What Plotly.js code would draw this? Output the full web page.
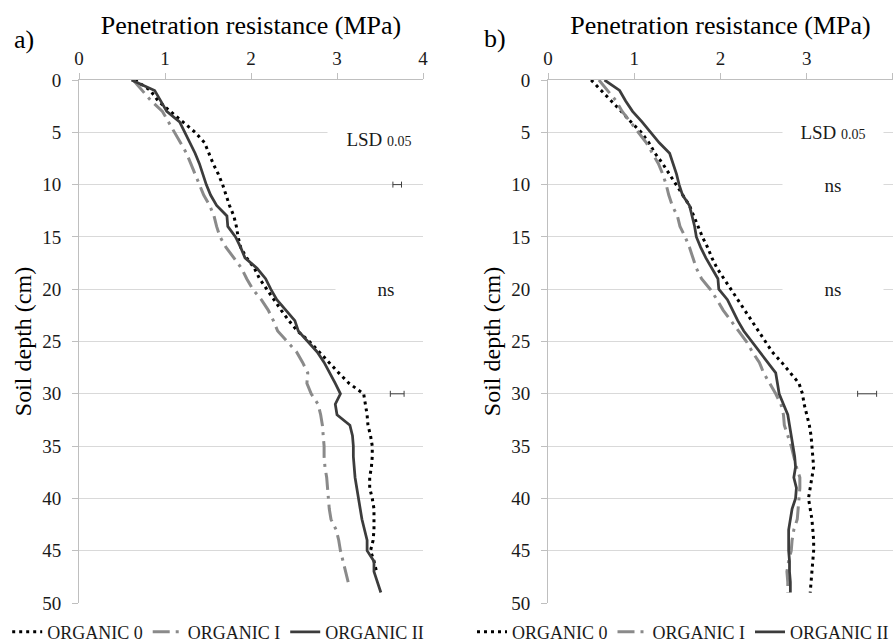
<!DOCTYPE html>
<html>
<head>
<meta charset="utf-8">
<script src="https://cdn.plot.ly/plotly-3.0.1.min.js"></script>
<style>html,body{margin:0;padding:0;background:#fff;}#chart{width:896px;height:643px;}</style>
</head>
<body>
<div id="chart"></div>
<script>
// Depth (cm)
const depth = [0,1,2,3,4,5,6,7,8,9,10,11,12,13,14,15,16,17,18,19,20,21,22,23,24,25,26,27,28,29,30,31,32,33,34,35,36,37,38,39,40,41,42,43,44,45,46,47,48,49];

// Panel a) penetration resistance (MPa)
const a_org0 = [0.65,0.83,0.92,1.06,1.20,1.35,1.46,1.51,1.56,1.62,1.67,1.71,1.75,1.80,1.83,1.85,1.88,1.95,2.04,2.10,2.18,2.26,2.35,2.44,2.54,2.68,2.79,2.90,3.02,3.14,3.31,3.33,3.35,3.36,3.39,3.41,3.41,3.40,3.38,3.38,3.41,3.43,3.43,3.43,3.42,3.39,3.43,3.46];
const a_org1 = [0.63,0.74,0.84,0.97,1.04,1.12,1.19,1.25,1.30,1.35,1.40,1.45,1.52,1.57,1.60,1.64,1.71,1.80,1.89,1.95,2.02,2.12,2.20,2.26,2.31,2.42,2.53,2.60,2.66,2.65,2.70,2.78,2.81,2.83,2.84,2.85,2.85,2.86,2.88,2.89,2.90,2.91,2.93,2.99,3.02,3.04,3.07,3.10,3.13];
const a_org2 = [0.61,0.88,0.95,1.02,1.17,1.23,1.29,1.35,1.40,1.44,1.48,1.53,1.60,1.72,1.73,1.82,1.88,1.93,2.07,2.17,2.23,2.30,2.40,2.51,2.55,2.66,2.77,2.85,2.92,2.98,3.04,2.98,3.00,3.15,3.18,3.19,3.19,3.20,3.21,3.23,3.25,3.27,3.29,3.32,3.35,3.35,3.43,3.43,3.47,3.51];

// Panel b)
const b_org0 = [0.50,0.62,0.74,0.85,0.96,1.08,1.17,1.24,1.33,1.41,1.48,1.57,1.64,1.69,1.74,1.79,1.85,1.90,1.96,2.04,2.12,2.20,2.27,2.35,2.43,2.52,2.60,2.71,2.81,2.91,2.95,2.97,3.00,3.03,3.05,3.06,3.07,3.08,3.06,3.04,3.02,3.04,3.06,3.07,3.08,3.08,3.07,3.06,3.05,3.04];
const b_org1 = [0.59,0.69,0.79,0.86,0.95,1.05,1.14,1.21,1.28,1.33,1.37,1.40,1.44,1.50,1.53,1.59,1.64,1.68,1.72,1.78,1.88,1.96,2.03,2.12,2.21,2.30,2.37,2.45,2.50,2.57,2.64,2.70,2.73,2.74,2.78,2.82,2.85,2.88,2.92,2.92,2.91,2.90,2.89,2.85,2.83,2.82,2.79,2.77,2.78,2.78];
const b_org2 = [0.655,0.83,0.90,0.98,1.09,1.19,1.29,1.41,1.45,1.49,1.52,1.56,1.64,1.67,1.70,1.72,1.77,1.83,1.90,1.97,1.98,2.08,2.14,2.20,2.27,2.36,2.45,2.55,2.64,2.66,2.68,2.73,2.78,2.80,2.82,2.84,2.86,2.87,2.85,2.88,2.87,2.83,2.81,2.79,2.79,2.79,2.80,2.80,2.81,2.81];

// LSD 0.05 bars
const a_lsdDepth = [10, 30];
const a_lsdX = [3.70, 3.70];
const a_lsdHalf = [0.05, 0.08];
const b_lsdDepth = [30];
const b_lsdX = [3.70];
const b_lsdHalf = [0.11];

const seriesNames = ['ORGANIC 0', 'ORGANIC I', 'ORGANIC II'];
const xTicks = [0, 1, 2, 3, 4];
const yTicks = [0, 5, 10, 15, 20, 25, 30, 35, 40, 45, 50];

const FONT = "'Liberation Serif', 'Times New Roman', serif";
const styles = [
  {color: '#000000', width: 3, dash: '3px,4px'},
  {color: '#8a8a8a', width: 3, dash: '17px,6px,3px,6px'},
  {color: '#3c3c3c', width: 2.75, dash: 'solid'}
];

function sl(n){ return depth.slice(0, n); }

const traces = [];
[[a_org0, a_org1, a_org2, 'x', 'y', 'legend'], [b_org0, b_org1, b_org2, 'x2', 'y2', 'legend2']].forEach(p => {
  [p[0], p[1], p[2]].forEach((vals, i) => {
    traces.push({
      type: 'scatter', mode: 'lines', name: seriesNames[i],
      x: vals, y: sl(vals.length), xaxis: p[3], yaxis: p[4], legend: p[5],
      line: Object.assign({}, styles[i]), hoverinfo: 'skip'
    });
  });
});
traces.push({type:'scatter', mode:'markers', x:a_lsdX, y:a_lsdDepth, xaxis:'x', yaxis:'y', showlegend:false,
  marker:{size:1, color:'rgba(0,0,0,0)'},
  error_x:{type:'data', array:a_lsdHalf, visible:true, color:'#404040', thickness:1, width:3}});
traces.push({type:'scatter', mode:'markers', x:b_lsdX, y:b_lsdDepth, xaxis:'x2', yaxis:'y2', showlegend:false,
  marker:{size:1, color:'rgba(0,0,0,0)'},
  error_x:{type:'data', array:b_lsdHalf, visible:true, color:'#404040', thickness:1, width:3}});

function xax(domain, anchor){
  return {domain: domain, anchor: anchor, range: [0, 4], side: 'top', tickvals: xTicks,
    ticks: 'outside', ticklen: 6, tickcolor: '#bfbfbf', showline: true, linecolor: '#bfbfbf', linewidth: 1,
    showgrid: false, zeroline: false, tickfont: {family: FONT, size: 19, color: '#1a1a1a'},
    title: {text: 'Penetration resistance (MPa)', standoff: 6, font: {family: FONT, size: 26, color: '#000'}}};
}
function yax(anchor){
  return {domain: [0, 1], anchor: anchor, range: [50, 0], tickvals: yTicks,
    ticks: 'outside', ticklen: 6, tickcolor: '#bfbfbf', showline: true, linecolor: '#bfbfbf', linewidth: 1,
    showgrid: true, gridcolor: '#d9d9d9', gridwidth: 1, zeroline: false, ticklabelstandoff: 7,
    tickfont: {family: FONT, size: 19, color: '#1a1a1a'},
    title: {text: 'Soil depth (cm)', standoff: 3, font: {family: FONT, size: 24, color: '#000'}}};
}

const annFont = {family: FONT, size: 19, color: '#1a1a1a'};
const lsdText = 'LSD <span style="font-size:14px">0.05</span>';
const legendCommon = {orientation: 'h', yref: 'container', y: 0.017, yanchor: 'middle', xanchor: 'center',
  font: {family: FONT, size: 18, color: '#1a1a1a'}, itemwidth: 30, tracegroupgap: 0, bgcolor: 'rgba(0,0,0,0)'};
const layout = {
  width: 896, height: 643,
  margin: {l: 79, r: 3, t: 80, b: 40},
  paper_bgcolor: '#ffffff', plot_bgcolor: '#ffffff',
  font: {family: FONT, color: '#000'},
  xaxis: xax([0, 0.4226], 'y'),
  yaxis: yax('x'),
  xaxis2: xax([0.5762, 1], 'y2'),
  yaxis2: yax('x2'),
  legend: Object.assign({x: 0.171}, legendCommon),
  legend2: Object.assign({x: 0.742}, legendCommon),
  showlegend: true,
  annotations: [
    {xref: 'paper', yref: 'paper', x: -0.0676, y: 1.0765, xanchor: 'center', yanchor: 'middle', text: 'a)', showarrow: false,
      font: {family: FONT, size: 26, color: '#000'}},
    {xref: 'paper', yref: 'paper', x: 0.511, y: 1.080, xanchor: 'center', yanchor: 'middle', text: 'b)', showarrow: false,
      font: {family: FONT, size: 26, color: '#000'}},
    {xref: 'x', yref: 'y', x: 3.49, y: 5.64, text: lsdText, showarrow: false, font: annFont,
      bgcolor: '#ffffff', width: 100, height: 24},
    {xref: 'x', yref: 'y', x: 3.57, y: 20.0, text: 'ns', showarrow: false, font: annFont,
      bgcolor: '#ffffff', width: 98, height: 22},
    {xref: 'x2', yref: 'y2', x: 3.30, y: 5.0, text: lsdText, showarrow: false, font: annFont,
      bgcolor: '#ffffff', width: 98, height: 22},
    {xref: 'x2', yref: 'y2', x: 3.30, y: 10.0, text: 'ns', showarrow: false, font: annFont,
      bgcolor: '#ffffff', width: 98, height: 22},
    {xref: 'x2', yref: 'y2', x: 3.30, y: 20.0, text: 'ns', showarrow: false, font: annFont,
      bgcolor: '#ffffff', width: 98, height: 22}
  ]
};

Plotly.newPlot('chart', traces, layout, {staticPlot: true, displayModeBar: false});
</script>
</body>
</html>
